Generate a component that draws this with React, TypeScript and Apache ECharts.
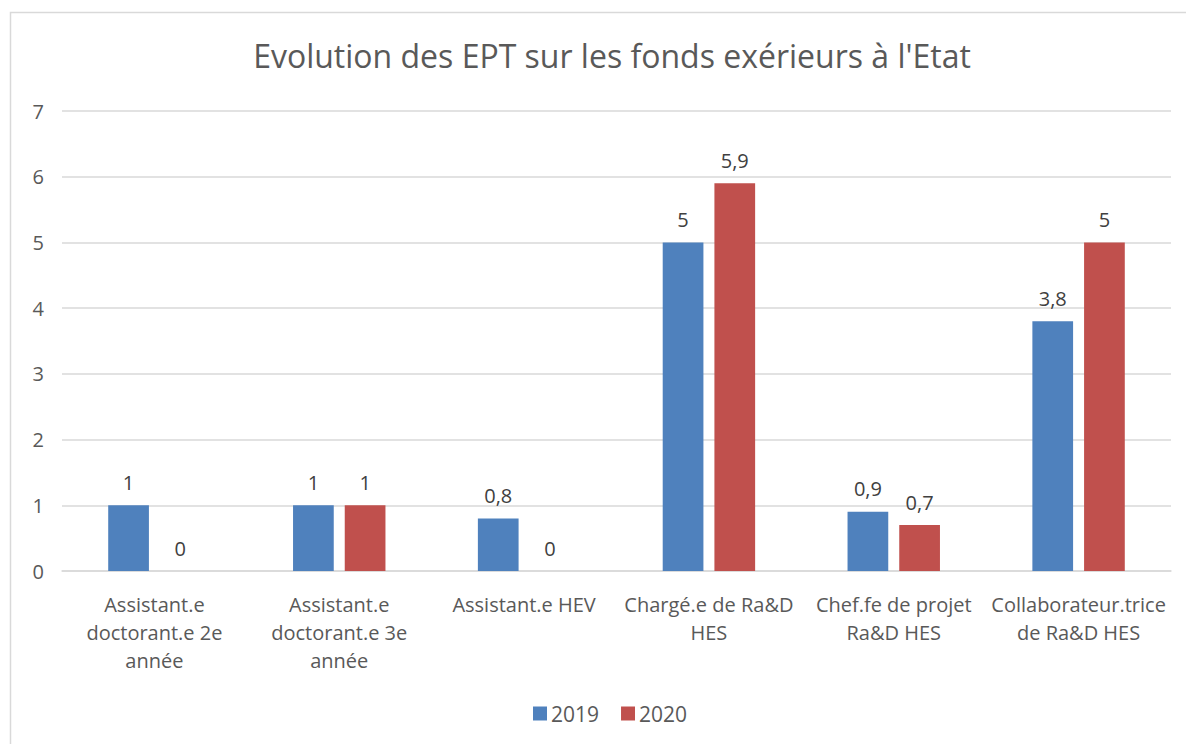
import React, { useEffect, useRef } from "react";
import * as echarts from "echarts";

const categories = [
  "Assistant.e doctorant.e 2e année",
  "Assistant.e doctorant.e 3e année",
  "Assistant.e HEV",
  "Chargé.e de Ra&D HES",
  "Chef.fe de projet Ra&D HES",
  "Collaborateur.trice de Ra&D HES",
];
const categoryTickLabels = [
  "Assistant.e\ndoctorant.e 2e\nannée",
  "Assistant.e\ndoctorant.e 3e\nannée",
  "Assistant.e HEV",
  "Chargé.e de Ra&D\nHES",
  "Chef.fe de projet\nRa&D HES",
  "Collaborateur.trice\nde Ra&D HES",
];
const values2019 = [1, 1, 0.8, 5, 0.9, 3.8];
const values2020 = [0, 1, 0, 5.9, 0.7, 5];
const seriesNames = ["2019", "2020"];
const title = "Evolution des EPT sur les fonds exérieurs à l'Etat";

const FONT = "'Open Sans', 'Noto Sans', sans-serif";

export default function App() {
  const ref = useRef<HTMLDivElement>(null);
  useEffect(() => {
    if (!ref.current) return;
    const chart = echarts.init(ref.current, undefined, { renderer: "svg" });
    const fmt = (p: any) => String(p.value).replace(".", ",");
    const label = {
      show: true,
      position: "top" as const,
      distance: 13,
      color: "#404040",
      fontSize: 20,
      fontFamily: FONT,
      formatter: fmt,
    };
    chart.setOption({
      animation: false,
      backgroundColor: "#ffffff",
      title: {
        text: title,
        left: 607,
        textAlign: "center",
        top: 34,
        textStyle: { fontSize: 32, fontWeight: "normal", color: "#595959", fontFamily: FONT },
      },
      legend: {
        data: seriesNames,
        bottom: 15,
        left: 528,
        itemWidth: 14,
        itemHeight: 14,
        itemGap: 22,
        icon: "rect",
        textStyle: { fontSize: 21, color: "#595959", fontFamily: FONT, padding: [0, 0, 0, -1] },
      },
      grid: { left: 62, right: 15, top: 111, bottom: 173, containLabel: false },
      xAxis: {
        type: "category",
        data: categories,
        axisLine: { lineStyle: { color: "#D9D9D9", width: 1.5 } },
        axisTick: { show: false },
        axisLabel: {
          interval: 0,
          margin: 19,
          fontSize: 20,
          lineHeight: 28,
          color: "#595959",
          fontFamily: FONT,
          formatter: (_v: string, i: number) => categoryTickLabels[i],
        },
      },
      yAxis: {
        type: "value",
        min: 0,
        max: 7,
        interval: 1,
        axisLine: { show: false },
        axisTick: { show: false },
        splitLine: { lineStyle: { color: "#D9D9D9", width: 1.5 } },
        axisLabel: { fontSize: 20, color: "#595959", fontFamily: FONT, margin: 18 },
      },
      series: [
        {
          name: seriesNames[0],
          type: "bar",
          data: values2019,
          itemStyle: { color: "#4F81BD" },
          barGap: "27%",
          barCategoryGap: "50%",
          label,
        },
        {
          name: seriesNames[1],
          type: "bar",
          data: values2020,
          itemStyle: { color: "#C0504D" },
          label,
        },
      ],
      graphic: [
        {
          type: "rect",
          shape: { x: 10.5, y: 12.5, width: 1200, height: 800 },
          style: { fill: "none", stroke: "#D9D9D9", lineWidth: 1.5 },
          silent: true,
          z: 100,
        },
      ],
    });
    return () => chart.dispose();
  }, []);
  return (
    <div
      ref={ref}
      style={{ position: "absolute", left: 0, top: 0, width: 1186, height: 744 }}
    />
  );
}
